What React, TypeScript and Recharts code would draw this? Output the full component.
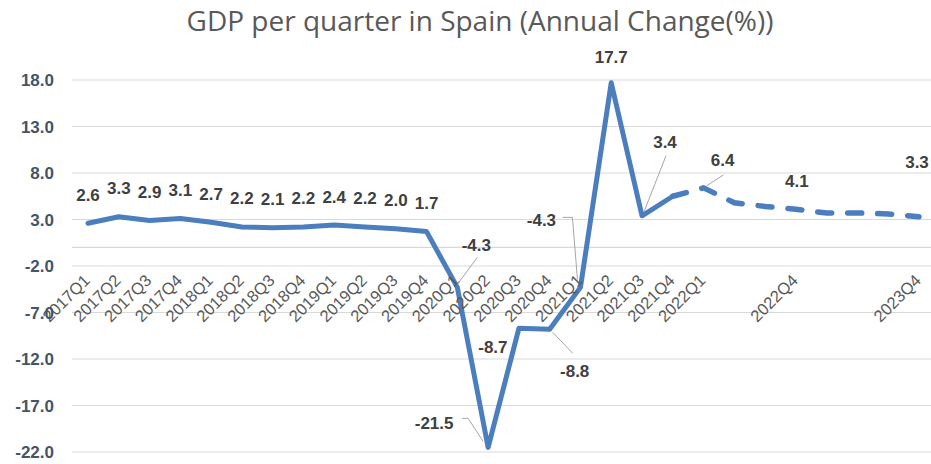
import React from 'react';
import { LineChart, Line, XAxis, YAxis, CartesianGrid, ReferenceLine, LabelList } from 'recharts';

const categories = [
  '2017Q1','2017Q2','2017Q3','2017Q4','2018Q1','2018Q2','2018Q3','2018Q4',
  '2019Q1','2019Q2','2019Q3','2019Q4','2020Q1','2020Q2','2020Q3','2020Q4',
  '2021Q1','2021Q2','2021Q3','2021Q4','2022Q1','2022Q2','2022Q3','2022Q4',
  '2023Q1','2023Q2','2023Q3','2023Q4',
];

const actualValues: (number | null)[] = [
  2.6, 3.3, 2.9, 3.1, 2.7, 2.2, 2.1, 2.2, 2.4, 2.2, 2.0, 1.7,
  -4.3, -21.5, -8.7, -8.8, -4.3, 17.7, 3.4, 5.5,
  null, null, null, null, null, null, null, null,
];

const forecastValues: (number | null)[] = [
  null, null, null, null, null, null, null, null, null, null, null, null,
  null, null, null, null, null, null, null, 5.5,
  6.4, 4.8, 4.4, 4.1, 3.7, 3.7, 3.6, 3.3,
];

const xTickLabels = [
  '2017Q1','2017Q2','2017Q3','2017Q4','2018Q1','2018Q2','2018Q3','2018Q4',
  '2019Q1','2019Q2','2019Q3','2019Q4','2020Q1','2020Q2','2020Q3','2020Q4',
  '2021Q1','2021Q2','2021Q3','2021Q4','2022Q1','2022Q4','2023Q4',
];

const yTicks = [-22, -17, -12, -7, -2, 3, 8, 13, 18];

const labeledActual = [
  '2017Q1','2017Q2','2017Q3','2017Q4','2018Q1','2018Q2','2018Q3','2018Q4',
  '2019Q1','2019Q2','2019Q3','2019Q4','2020Q1','2020Q2','2020Q3','2020Q4',
  '2021Q1','2021Q2','2021Q3',
];
const labeledForecast = ['2022Q1', '2022Q4', '2023Q4'];

const title = 'GDP per quarter in Spain (Annual Change(%))';

const data = categories.map((c, i) => ({
  name: c,
  actual: actualValues[i],
  forecast: forecastValues[i],
}));

// layout
const W = 931;
const H = 464;
const M_TOP = 80;
const X_AXIS_H = 12;
const Y_MIN = -22;
const Y_MAX = 18;
const PLOT_H = H - M_TOP - X_AXIS_H;
const ZERO_Y = M_TOP + ((Y_MAX - 0) / (Y_MAX - Y_MIN)) * PLOT_H;

const LINE_COLOR = '#4A7EBE';
const LABEL_COLOR = '#404040';
const LEADER_COLOR = '#A6A6A6';

type LabelPos = { dx: number; dy: number; leader?: [number, number][] };
const labelPos: Record<string, LabelPos> = {
  '2020Q1': { dx: 19, dy: -42, leader: [[0, -3], [20, -30]] },
  '2020Q2': { dx: -54, dy: -24, leader: [[-26, -29], [-20, -29], [-5, -6]] },
  '2020Q3': { dx: -26, dy: 19 },
  '2020Q4': { dx: 25, dy: 42, leader: [[3, 3], [23, 24]] },
  '2021Q1': { dx: -39, dy: -67, leader: [[-18, -70], [-8, -70], [-3, -8]] },
  '2021Q2': { dx: 0, dy: -25 },
  '2021Q3': { dx: 23, dy: -73, leader: [[2, -4], [24, -60]] },
  '2022Q1': { dx: 19, dy: -27, leader: [[3, -2], [20, -13]] },
  '2022Q4': { dx: 1, dy: -28 },
  '2023Q4': { dx: -2, dy: -54 },
};

const makeLabel = (allowed: string[]) => (props: any) => {
  const { x, y, value, index } = props;
  if (value === null || value === undefined || x == null || y == null) return null;
  const name = categories[index];
  if (!allowed.includes(name)) return null;
  const pos = labelPos[name] || { dx: 0, dy: -28 };
  const lx = x + pos.dx;
  const ly = y + pos.dy;
  return (
    <g>
      {pos.leader && (
        <polyline
          points={pos.leader.map(([a, b]) => `${x + a},${y + b}`).join(' ')}
          fill="none"
          stroke={LEADER_COLOR}
          strokeWidth={1}
        />
      )}
      <text
        x={lx}
        y={ly}
        textAnchor="middle"
        dominantBaseline="central"
        fontFamily="'Liberation Sans', Arial, sans-serif"
        fontWeight="bold"
        fontSize={17}
        fill={LABEL_COLOR}
      >
        {Number(value).toFixed(1)}
      </text>
    </g>
  );
};

const XTick = (props: any) => {
  const { x, payload } = props;
  const v = payload?.value;
  if (!xTickLabels.includes(v)) return null;
  const ax = x + 3;
  const ay = ZERO_Y + 34;
  return (
    <text
      x={ax}
      y={ay}
      textAnchor="end"
      transform={`rotate(-45 ${ax} ${ay})`}
      fontFamily="'Liberation Sans', Arial, sans-serif"
      fontSize={16.5}
      fill="#595959"
    >
      {v}
    </text>
  );
};

export default function App() {
  return (
    <div style={{ position: 'absolute', left: 0, top: 0, width: W, height: H, background: '#fff', overflow: 'hidden' }}>
      <div
        style={{
          position: 'absolute',
          left: 0,
          top: 1,
          width: 960,
          textAlign: 'center',
          fontFamily: "'Open Sans', sans-serif",
          fontSize: 28,
          color: '#595959',
          whiteSpace: 'nowrap',
        }}
      >
        {title}
      </div>
      <LineChart
        width={W}
        height={H}
        data={data}
        margin={{ top: M_TOP, right: 0, bottom: 0, left: 0 }}
      >
        <CartesianGrid horizontal vertical={false} stroke="#D9D9D9" strokeWidth={1.2} />
        <ReferenceLine y={0} stroke="#D9D9D9" strokeWidth={1.2} />
        <XAxis
          dataKey="name"
          interval={0}
          axisLine={false}
          tickLine={false}
          height={X_AXIS_H}
          padding={{ left: 16, right: 12 }}
          tick={(p: any) => <XTick {...p} />}
        />
        <YAxis
          type="number"
          domain={[Y_MIN, Y_MAX]}
          ticks={yTicks}
          width={72}
          axisLine={false}
          tickLine={false}
          tickSize={0}
          tickMargin={18}
          tickFormatter={(v: number) => v.toFixed(1)}
          tick={{ fontFamily: "'Liberation Sans', Arial, sans-serif", fontWeight: 'bold', fontSize: 17, fill: '#44546A' }}
          allowDataOverflow
        />
        <Line
          type="linear"
          dataKey="actual"
          stroke={LINE_COLOR}
          strokeWidth={5}
          dot={false}
          activeDot={false}
          connectNulls={false}
          strokeLinejoin="round"
          strokeLinecap="round"
          isAnimationActive={false}
        >
          <LabelList dataKey="actual" content={makeLabel(labeledActual)} />
        </Line>
        <Line
          type="linear"
          dataKey="forecast"
          stroke={LINE_COLOR}
          strokeWidth={5.5}
          strokeDasharray="14 16"
          strokeLinecap="round"
          dot={false}
          activeDot={false}
          isAnimationActive={false}
        >
          <LabelList dataKey="forecast" content={makeLabel(labeledForecast)} />
        </Line>
      </LineChart>
    </div>
  );
}
